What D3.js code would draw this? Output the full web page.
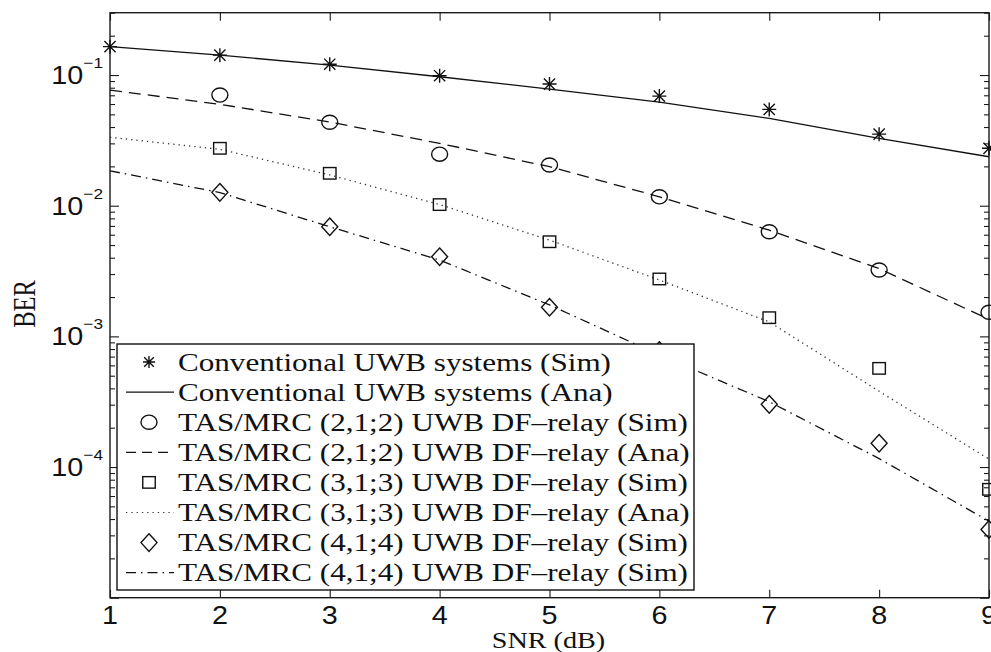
<!DOCTYPE html>
<html>
<head>
<meta charset="utf-8">
<script src="https://cdn.jsdelivr.net/npm/d3@7"></script>
<style>
  html, body { margin: 0; padding: 0; background: #fff; }
  svg { display: block; }
</style>
</head>
<body>
<svg id="chart" width="991" height="652"></svg>
<script>
// ---------------- data ----------------
const snrAll = [1, 2, 3, 4, 5, 6, 7, 8, 9];
const snrSim = [2, 3, 4, 5, 6, 7, 8, 9];

const convSim = [0.165, 0.142, 0.121, 0.0988, 0.0853, 0.069, 0.0546, 0.0353, 0.0275]; // x = 1..9
const convAna = [0.165, 0.142, 0.119, 0.097, 0.078, 0.062, 0.0466, 0.0327, 0.0237];

const tas2Sim = [0.0703, 0.0435, 0.0248, 0.0205, 0.0117, 0.00632, 0.00322, 0.00153];   // x = 2..9
const tas2Ana = [0.0767, 0.0597, 0.0437, 0.030, 0.0199, 0.0117, 0.0065, 0.0033, 0.00135];

const tas3Sim = [0.0275, 0.0177, 0.0102, 0.0053, 0.00275, 0.00139, 0.000569, 0.0000675];
const tas3Ana = [0.0334, 0.027, 0.0172, 0.0102, 0.00546, 0.0027, 0.00129, 0.00038, 0.000115];

const tas4Sim = [0.01265, 0.0069, 0.00407, 0.00167, 0.00078, 0.000302, 0.000152, 0.0000333];
const tas4Ana = [0.0185, 0.0126, 0.0069, 0.00384, 0.00174, 0.00072, 0.000316, 0.000116, 0.0000385];

const legendLabels = [
  "Conventional UWB systems (Sim)",
  "Conventional UWB systems (Ana)",
  "TAS/MRC (2,1;2) UWB DF\u2013relay (Sim)",
  "TAS/MRC (2,1;2) UWB DF\u2013relay (Ana)",
  "TAS/MRC (3,1;3) UWB DF\u2013relay (Sim)",
  "TAS/MRC (3,1;3) UWB DF\u2013relay (Ana)",
  "TAS/MRC (4,1;4) UWB DF\u2013relay (Sim)",
  "TAS/MRC (4,1;4) UWB DF\u2013relay (Sim)"
];

const xTicks = [1, 2, 3, 4, 5, 6, 7, 8, 9];
const yMajorTicks = [1e-5, 1e-4, 1e-3, 1e-2, 1e-1];
const yLabelExps = [-1, -2, -3, -4];

// ---------------- layout ----------------
const L = 110, R = 989, T = 12.7, B = 597.7;
const svg = d3.select("#chart");
svg.append("rect").attr("width", 991).attr("height", 652).attr("fill", "#fff");

const x = d3.scaleLinear().domain([1, 9]).range([L, R]);
const y = d3.scaleLog().domain([1e-5, 0.3]).range([B, T]);

const yMinor = [];
for (let e = -5; e <= -1; e++) {
  for (let m = 2; m <= 9; m++) {
    const v = m * Math.pow(10, e);
    if (v <= 0.3 + 1e-12) yMinor.push(v);
  }
}

const axisColor = "#1a1a1a";
function styleAxis(g) {
  g.select(".domain").remove();
  g.selectAll(".tick line").attr("stroke", axisColor).attr("stroke-width", 1.1);
  g.selectAll(".tick text").remove();
}

// ticks (inward)
svg.append("g").attr("transform", `translate(0,${B})`)
  .call(d3.axisBottom(x).tickValues(xTicks).tickSize(-8)).call(styleAxis);
svg.append("g").attr("transform", `translate(0,${T})`)
  .call(d3.axisTop(x).tickValues(xTicks).tickSize(-8)).call(styleAxis);
svg.append("g").attr("transform", `translate(${L},0)`)
  .call(d3.axisLeft(y).tickValues(yMajorTicks).tickSize(-9)).call(styleAxis);
svg.append("g").attr("transform", `translate(${L},0)`)
  .call(d3.axisLeft(y).tickValues(yMinor).tickSize(-5)).call(styleAxis);
svg.append("g").attr("transform", `translate(${R},0)`)
  .call(d3.axisRight(y).tickValues(yMajorTicks).tickSize(-9)).call(styleAxis);
svg.append("g").attr("transform", `translate(${R},0)`)
  .call(d3.axisRight(y).tickValues(yMinor).tickSize(-5)).call(styleAxis);

// frame
svg.append("rect").attr("x", L).attr("y", T).attr("width", R - L).attr("height", B - T)
  .attr("fill", "none").attr("stroke", axisColor).attr("stroke-width", 1.4);

// x tick labels
svg.append("g").selectAll("text").data(xTicks).join("text")
  .attr("transform", d => `translate(${x(d)},${B + 26.5}) scale(1.15,1)`)
  .attr("text-anchor", "middle")
  .attr("font-family", "Liberation Sans, Arial, sans-serif")
  .attr("font-size", 25).attr("fill", "#111")
  .text(d => d);

// y tick labels 10^-n
const yl = svg.append("g").selectAll("text").data(yLabelExps).join("text")
  .attr("transform", d => `translate(${L - 7},${y(Math.pow(10, d)) + 9}) scale(1.15,1)`)
  .attr("text-anchor", "end")
  .attr("font-family", "Liberation Sans, Arial, sans-serif")
  .attr("fill", "#111");
yl.append("tspan").attr("font-size", 25).text("10");
yl.append("tspan").attr("font-size", 15).attr("dy", -16).text(d => "\u2212" + Math.abs(d));

// axis titles
svg.append("text")
  .attr("transform", `translate(548.5,648) scale(1.2,1)`)
  .attr("text-anchor", "middle")
  .attr("font-family", "Liberation Serif, Times New Roman, serif")
  .attr("font-size", 23.5).attr("fill", "#111")
  .text("SNR (dB)");
svg.append("text")
  .attr("transform", `translate(35,304) scale(1.3,1) rotate(-90)`)
  .attr("text-anchor", "middle")
  .attr("font-family", "Liberation Serif, Times New Roman, serif")
  .attr("font-size", 24.5).attr("fill", "#111")
  .text("BER");

// ---------------- marks ----------------
const line = d3.line().x(d => x(d[0])).y(d => y(d[1]));
const zip = (xs, vs) => xs.map((v, i) => [v, vs[i]]);

const styles = {
  solid: null,
  dashed: "12,7",
  dotted: "1.3,4",
  dashdot: "10,5,1.5,5"
};

const lines = [
  { data: zip(snrAll, convAna), dash: styles.solid, color: "#111" },
  { data: zip(snrAll, tas2Ana), dash: styles.dashed, color: "#111" },
  { data: zip(snrAll, tas3Ana), dash: styles.dotted, color: "#333" },
  { data: zip(snrAll, tas4Ana), dash: styles.dashdot, color: "#111" }
];
svg.append("g").selectAll("path").data(lines).join("path")
  .attr("d", d => line(d.data))
  .attr("fill", "none")
  .attr("stroke", d => d.color)
  .attr("stroke-width", 1.3)
  .attr("stroke-dasharray", d => d.dash);

// marker shapes
function drawMarker(g, type, cx, cy, s) {
  const st = { stroke: "#111", "stroke-width": 1.4, fill: "none" };
  let el;
  if (type === "star") {
    const r = s / 2, rd = r * 0.8;
    el = g.append("path").attr("d",
      `M${cx - r},${cy}L${cx + r},${cy}M${cx},${cy - r}L${cx},${cy + r}` +
      `M${cx - rd},${cy - rd}L${cx + rd},${cy + rd}M${cx - rd},${cy + rd}L${cx + rd},${cy - rd}`);
  } else if (type === "circle") {
    el = g.append("ellipse").attr("cx", cx).attr("cy", cy).attr("rx", s * 0.5).attr("ry", s * 0.44);
  } else if (type === "square") {
    el = g.append("rect").attr("x", cx - s * 0.5).attr("y", cy - s * 0.46).attr("width", s).attr("height", s * 0.92);
  } else if (type === "diamond") {
    const w = s * 0.5, h = s * 0.55;
    el = g.append("path").attr("d", `M${cx},${cy - h}L${cx + w},${cy}L${cx},${cy + h}L${cx - w},${cy}Z`);
  }
  Object.entries(st).forEach(([k, v]) => el.attr(k, v));
}

const markerSeries = [
  { data: zip(snrAll, convSim), type: "star", size: 14 },
  { data: zip(snrSim, tas2Sim), type: "circle", size: 16 },
  { data: zip(snrSim, tas3Sim), type: "square", size: 12.5 },
  { data: zip(snrSim, tas4Sim), type: "diamond", size: 16 }
];
const mg = svg.append("g");
markerSeries.forEach(s => {
  s.data.forEach(p => drawMarker(mg, s.type, x(p[0]), y(p[1]), s.size));
});

// ---------------- legend ----------------
const lg = svg.append("g");
lg.append("rect").attr("x", 117).attr("y", 344).attr("width", 577).attr("height", 246)
  .attr("fill", "#fff").attr("stroke", "#111").attr("stroke-width", 1.4);

const legendItems = [
  { kind: "marker", type: "star", size: 12 },
  { kind: "line", dash: styles.solid, color: "#111" },
  { kind: "marker", type: "circle", size: 16 },
  { kind: "line", dash: "10,6", color: "#111" },
  { kind: "marker", type: "square", size: 12.5 },
  { kind: "line", dash: styles.dotted, color: "#333" },
  { kind: "marker", type: "diamond", size: 16 },
  { kind: "line", dash: styles.dashdot, color: "#111" }
];
const rowY = i => 362 + i * 30.1;
legendItems.forEach((it, i) => {
  const cy = rowY(i);
  if (it.kind === "marker") {
    drawMarker(lg, it.type, 149, cy, it.size);
  } else {
    lg.append("line").attr("x1", 126).attr("x2", 174).attr("y1", cy).attr("y2", cy)
      .attr("stroke", it.color).attr("stroke-width", 1.2)
      .attr("stroke-dasharray", it.dash);
  }
  lg.append("text")
    .attr("transform", `translate(178,${cy + 8.5}) scale(1.27,1)`)
    .attr("font-family", "Liberation Serif, Times New Roman, serif")
    .attr("font-size", 24.5).attr("fill", "#111")
    .text(legendLabels[i]);
});
</script>
</body>
</html>
